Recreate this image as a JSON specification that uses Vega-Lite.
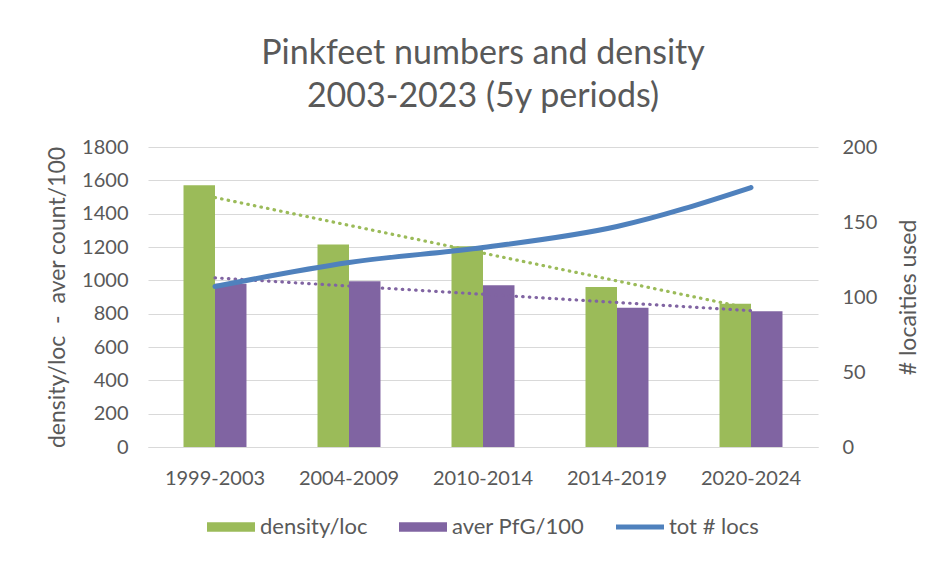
{
  "$schema": "https://vega.github.io/schema/vega-lite/v6.json",
  "autosize": "none",
  "width": 670,
  "height": 300,
  "padding": {"left": 148, "top": 147, "right": 123, "bottom": 115},
  "background": "white",
  "title": {
    "text": ["Pinkfeet numbers and density", "2003-2023 (5y periods)"],
    "anchor": "middle",
    "font": "Lato",
    "fontSize": 34,
    "fontWeight": "normal",
    "color": "#595959",
    "lineHeight": 43,
    "offset": 23
  },
  "datasets": {
    "bars": [
      {"period": "1999-2003", "series": "density/loc", "value": 1570},
      {"period": "1999-2003", "series": "aver PfG/100", "value": 980},
      {"period": "2004-2009", "series": "density/loc", "value": 1215},
      {"period": "2004-2009", "series": "aver PfG/100", "value": 995},
      {"period": "2010-2014", "series": "density/loc", "value": 1205},
      {"period": "2010-2014", "series": "aver PfG/100", "value": 970},
      {"period": "2014-2019", "series": "density/loc", "value": 960},
      {"period": "2014-2019", "series": "aver PfG/100", "value": 835},
      {"period": "2020-2024", "series": "density/loc", "value": 860},
      {"period": "2020-2024", "series": "aver PfG/100", "value": 815}
    ],
    "trend": [
      {"period": "1999-2003", "series": "density/loc", "value": 1497},
      {"period": "2020-2024", "series": "density/loc", "value": 830},
      {"period": "1999-2003", "series": "aver PfG/100", "value": 1015},
      {"period": "2020-2024", "series": "aver PfG/100", "value": 818}
    ],
    "locs": [
      {"period": "1999-2003", "locs": 107},
      {"period": "2004-2009", "locs": 123},
      {"period": "2010-2014", "locs": 133},
      {"period": "2014-2019", "locs": 147},
      {"period": "2020-2024", "locs": 173}
    ]
  },
  "encoding": {
    "x": {
      "field": "period",
      "type": "nominal",
      "sort": null,
      "scale": {"paddingInner": 0.53, "paddingOuter": 0.265},
      "axis": {
        "title": null,
        "labelAngle": 0,
        "labelFont": "Lato",
        "labelFontSize": 20,
        "labelColor": "#595959",
        "labelPadding": 21,
        "ticks": false,
        "domain": true,
        "domainColor": "#d9d9d9",
        "grid": false
      }
    }
  },
  "layer": [
    {
      "layer": [
        {
          "data": {"name": "bars"},
          "mark": {"type": "bar"},
          "encoding": {
            "xOffset": {"field": "series", "type": "nominal", "sort": ["density/loc", "aver PfG/100"], "scale": {"paddingInner": 0, "paddingOuter": 0}},
            "y": {"field": "value", "type": "quantitative"},
            "color": {
              "field": "series",
              "type": "nominal",
              "scale": {"domain": ["density/loc", "aver PfG/100", "tot # locs"], "range": ["#9BBB59", "#8064A2", "#4F81BD"]},
              "legend": {
                "title": null,
                "orient": "none",
                "direction": "horizontal",
                "legendX": 59,
                "legendY": 356,
                "labelFont": "Lato",
                "labelFontSize": 22,
                "labelColor": "#595959",
                "labelOffset": 5,
                "columnPadding": 31,
                "symbolSize": 2304,
                "symbolType": "M-1,-0.2H1V0.2H-1Z",
                "encode": {
                  "symbols": {
                    "update": {
                      "shape": {"signal": "datum.value === 'tot # locs' ? 'M-1,-0.1H1V0.1H-1Z' : 'M-1,-0.2H1V0.2H-1Z'"},
                      "fill": {"signal": "scale('color', datum.value)"},
                      "stroke": {"value": "transparent"},
                      "strokeWidth": {"value": 0},
                      "opacity": {"value": 1},
                      "fillOpacity": {"value": 1}
                    }
                  }
                }
              }
            }
          }
        },
        {
          "data": {"name": "trend"},
          "mark": {"type": "line", "strokeDash": [0.5, 6.2], "strokeCap": "round", "strokeWidth": 3.2},
          "encoding": {
            "y": {"field": "value", "type": "quantitative"},
            "color": {"field": "series", "type": "nominal"},
            "detail": {"field": "series"}
          }
        }
      ],
      "encoding": {
        "y": {
          "type": "quantitative",
          "scale": {"domain": [0, 1800]},
          "axis": {
            "title": "density/loc \u00a0-\u00a0 aver count/100",
            "values": [0, 200, 400, 600, 800, 1000, 1200, 1400, 1600, 1800],
            "format": "d",
            "labelFont": "Lato",
            "labelFontSize": 20,
            "labelColor": "#595959",
            "labelPadding": 20,
            "ticks": false,
            "domain": false,
            "grid": true,
            "gridColor": "#d9d9d9",
            "gridWidth": 1.2,
            "titleFont": "Lato",
            "titleFontSize": 23,
            "titleFontWeight": "normal",
            "titleColor": "#595959",
            "titlePadding": 12
          }
        }
      }
    },
    {
      "data": {"name": "locs"},
      "mark": {"type": "line", "strokeWidth": 5, "interpolate": "monotone", "strokeCap": "round"},
      "encoding": {
        "y": {
          "field": "locs",
          "type": "quantitative",
          "scale": {"domain": [0, 200]},
          "axis": {
            "orient": "right",
            "title": "# locaities used",
            "values": [0, 50, 100, 150, 200],
            "labelFont": "Lato",
            "labelFontSize": 20,
            "labelColor": "#595959",
            "labelPadding": 24,
            "ticks": false,
            "domain": false,
            "grid": false,
            "titleFont": "Lato",
            "titleFontSize": 23,
            "titleFontWeight": "normal",
            "titleColor": "#595959",
            "titleAngle": 270,
            "titleBaseline": "top",
            "titlePadding": 21
          }
        },
        "color": {"datum": "tot # locs", "type": "nominal"}
      }
    }
  ],
  "resolve": {"scale": {"y": "independent"}},
  "config": {
    "view": {"stroke": null}
  }
}
